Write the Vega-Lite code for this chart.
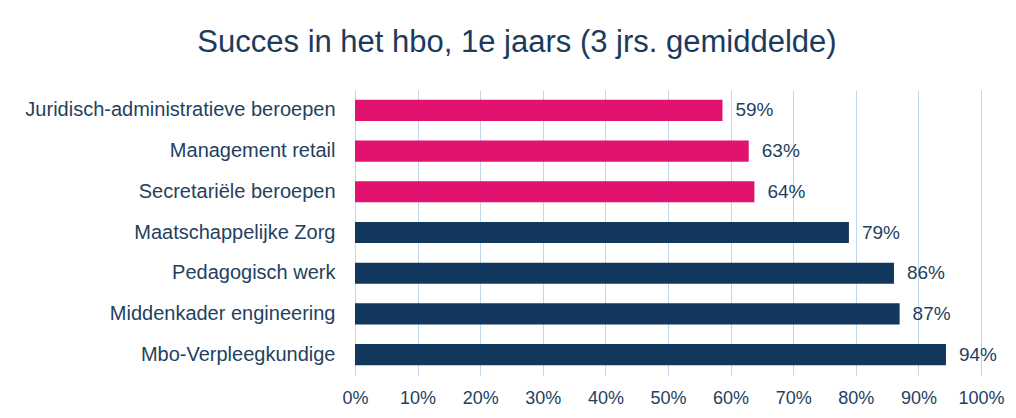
{
  "$schema": "https://vega.github.io/schema/vega-lite/v6.json",
  "width": 626,
  "height": 285,
  "autosize": {"type": "none"},
  "padding": {"left": 355, "top": 90, "right": 35, "bottom": 43},
  "background": "white",
  "title": {
    "text": "Succes in het hbo, 1e jaars (3 jrs. gemiddelde)",
    "anchor": "middle",
    "frame": "group",
    "dx": -151,
    "baseline": "alphabetic",
    "offset": 7,
    "font": "Liberation Sans",
    "fontSize": 31,
    "fontWeight": "normal",
    "color": "#1B3A5C"
  },
  "data": {
    "values": [
      {"opleiding": "Juridisch-administratieve beroepen", "succes": 0.587, "groep": "laag"},
      {"opleiding": "Management retail", "succes": 0.629, "groep": "laag"},
      {"opleiding": "Secretariële beroepen", "succes": 0.638, "groep": "laag"},
      {"opleiding": "Maatschappelijke Zorg", "succes": 0.789, "groep": "hoog"},
      {"opleiding": "Pedagogisch werk", "succes": 0.861, "groep": "hoog"},
      {"opleiding": "Middenkader engineering", "succes": 0.87, "groep": "hoog"},
      {"opleiding": "Mbo-Verpleegkundige", "succes": 0.944, "groep": "hoog"}
    ]
  },
  "encoding": {
    "y": {
      "field": "opleiding",
      "type": "nominal",
      "sort": null,
      "title": null,
      "scale": {"paddingInner": 0.48, "paddingOuter": 0.24},
      "axis": {
        "domain": false,
        "ticks": false,
        "grid": false,
        "labelFont": "Liberation Sans",
        "labelFontSize": 20,
        "labelColor": "#243F60",
        "labelPadding": 20,
        "labelLimit": 400
      }
    },
    "x": {
      "field": "succes",
      "type": "quantitative",
      "title": null,
      "scale": {"domain": [0, 1], "nice": false},
      "axis": {
        "values": [0, 0.1, 0.2, 0.3, 0.4, 0.5, 0.6, 0.7, 0.8, 0.9, 1],
        "format": ".0%",
        "domain": false,
        "ticks": false,
        "grid": true,
        "gridColor": "#BDD7EE",
        "gridWidth": 1,
        "labelFont": "Liberation Sans",
        "labelFontSize": 18,
        "labelColor": "#243F60",
        "labelPadding": 14,
        "labelFlush": false
      }
    }
  },
  "layer": [
    {
      "mark": {"type": "bar"},
      "encoding": {
        "color": {
          "field": "groep",
          "type": "nominal",
          "scale": {"domain": ["laag", "hoog"], "range": ["#E2136F", "#12375C"]},
          "legend": null
        }
      }
    },
    {
      "mark": {
        "type": "text",
        "align": "left",
        "baseline": "middle",
        "dx": 13,
        "font": "Liberation Sans",
        "fontSize": 19,
        "color": "#243F60"
      },
      "encoding": {
        "text": {"field": "succes", "type": "quantitative", "format": ".0%"}
      }
    }
  ],
  "config": {"view": {"stroke": null}}
}
